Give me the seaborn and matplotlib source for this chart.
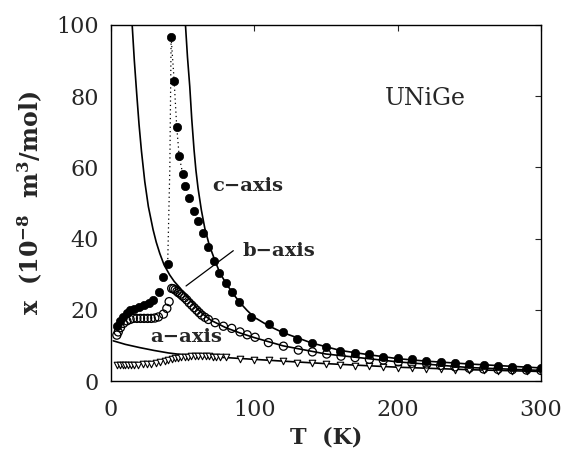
import numpy as np
import pandas as pd
import matplotlib
matplotlib.use("Agg")
import matplotlib.pyplot as plt
import seaborn as sns

# ---------------- data ----------------
c_T = [4, 6, 8.5, 11, 13.5, 16, 19.5, 23, 26.5, 29.5, 33.5, 36.5, 39.5,
       41.9, 44, 45.8, 47.5, 50, 51.9, 54.6, 58.1, 60.9, 64.4, 67.5, 72.1,
       75.4, 80, 84.6, 89, 98, 110, 120, 130, 140, 150, 160, 170, 180, 190,
       200, 210, 220, 230, 240, 250, 260, 270, 280, 290, 300]
c_chi = [15.5, 16.8, 18, 19.2, 19.9, 20.3, 20.8, 21.3, 22, 22.8, 25.1, 29.3, 33,
         96.5, 84.3, 71.4, 63.2, 58.1, 54.8, 51.3, 47.8, 44.9, 41.7, 37.7, 33.7,
         30.4, 27.6, 25, 22.3, 18.1, 15.9, 13.7, 11.9, 10.6, 9.6, 8.5, 7.9, 7.5, 6.8,
         6.4, 6.1, 5.7, 5.4, 5.1, 4.8, 4.4, 4.2, 4.0, 3.8, 3.7]

b_T = [4, 5, 6.5, 8.6, 11, 13.3, 15.5, 18, 20.5, 23, 25.5, 28, 30.5, 33,
       36.5, 38.9, 40.5, 42.3, 43.5, 44.7, 46, 47, 48.5, 49.8, 51.3, 52.8, 54.5,
       56.3, 58, 59.8, 61.5, 63.3, 65.5, 67.9, 72.6, 78.4, 84.2, 90, 95, 100.5,
       109.8, 120.3, 130.7, 140.5, 150.5, 160.5, 170.3, 180.3, 190, 200.5, 210,
       220.3, 230, 240, 250, 260, 270, 280, 290, 300]
b_chi = [12.9, 13.8, 15, 16.2, 16.9, 17.3, 17.6, 17.6, 17.6, 17.6, 17.6, 17.6, 17.7, 18,
         18.8, 20.4, 22.3, 26, 25.9, 25.6, 25.2, 24.8, 24.4, 23.9, 23.4, 22.8, 22,
         21.3, 20.6, 19.9, 19.2, 18.5, 17.9, 17.3, 16.4, 15.4, 14.8, 13.8, 13, 12.3,
         10.8, 9.8, 8.7, 8.2, 7.6, 7.0, 6.6, 6.1, 5.9, 5.4, 5.0,
         4.8, 4.4, 4.0, 3.6, 3.4, 3.3, 3.2, 3.1, 3.0]

a_T = [4, 6, 8, 10, 12, 14, 16, 19, 22, 25, 28, 31, 34, 37.7, 40, 42.5, 44.7,
       47, 49, 51.6, 54, 56, 58.6, 61, 63.5, 66, 68.5, 71, 73.5, 76, 80, 90,
       100, 110, 120, 130, 140, 150, 160, 170, 180, 190, 200, 210, 220, 230,
       240, 250, 260, 270, 280, 290, 300]
a_chi = [4.5, 4.5, 4.5, 4.5, 4.5, 4.5, 4.5, 4.6, 4.7, 4.8, 4.9, 5.1, 5.3, 5.5, 5.8, 6.1, 6.4,
         6.6, 6.7, 6.8, 6.9, 7.0, 7.0, 7.0, 7.0, 7.0, 7.0, 6.9, 6.9, 6.9, 6.8, 6.3,
         6.0, 5.8, 5.5, 5.2, 5.0, 4.8, 4.5, 4.3, 4.2, 4.0, 3.8, 3.6, 3.4, 3.3,
         3.2, 3.1, 3.0, 2.9, 2.8, 2.7, 2.7]

# fitted curves
fit_c_T = [51.9, 53.3, 54.9, 56.3, 57.9, 59.2, 60.7, 63, 65.4, 68.5, 72.6, 76, 80, 85,
           90, 95, 100, 110, 120, 140, 160, 180, 200, 220, 250, 300]
fit_c_chi = [100, 91, 82.7, 73.5, 64.9, 59.2, 54.1, 48, 42.9, 38.2, 33.7, 30.3, 27.6, 24.6,
             22, 19.8, 17.9, 15.5, 13.6, 10.7, 8.6, 7.4, 6.3, 5.6, 4.8, 3.7]

fit_b_T = [14.7, 16.2, 17.9, 19.5, 21.2, 23.5, 26, 29.3, 31.5, 34, 37, 40.9, 44, 48,
           52, 55, 60, 65, 70, 80, 90, 100, 120, 150, 200, 250, 300]
fit_b_chi = [100, 90, 80.5, 72, 64.5, 56, 49, 42.5, 39, 35.8, 32.6, 29.8, 28, 26.2,
             24.2, 22.8, 20.4, 18.5, 17.0, 15.0, 13.5, 12.2, 9.9, 7.6, 5.4, 3.8, 3.0]

fit_a_T = [1.5, 10, 20, 30, 40, 50, 60, 80, 100, 120, 150, 200, 250, 300]
fit_a_chi = [11.3, 10.3, 9.4, 8.6, 7.9, 7.4, 7.0, 6.6, 6.1, 5.6, 4.9, 3.9, 3.2, 2.7]

# dotted guides near the transition
dot1_T = [39.5, 41.0, 41.9]
dot1_chi = [33, 60, 96.5]
dot2_T = [41.9, 44, 45.8, 47.5, 50]
dot2_chi = [96.5, 84.3, 71.4, 63.2, 58.1]

# pointer for b-axis label
ptr_T = [85.3, 52.3]
ptr_chi = [36.6, 26.7]

# ---------------- plot ----------------
sns.set_style("white")
plt.rcParams['font.family'] = ['DejaVu Serif']
plt.rcParams['mathtext.fontset'] = 'dejavuserif'

fig = plt.figure(figsize=(5.64, 4.51), dpi=100)
ax = fig.add_axes([0.197, 0.155, 0.762, 0.79])

def line(x, y, **kw):
    sns.lineplot(x=x, y=y, ax=ax, sort=False, estimator=None, color='black', **kw)

line(fit_c_T, fit_c_chi, lw=1.2)
line(fit_b_T, fit_b_chi, lw=1.2)
line(fit_a_T, fit_a_chi, lw=1.2)
line(dot1_T, dot1_chi, lw=0.9, linestyle=(0, (1, 2.5)))
line(dot2_T, dot2_chi, lw=0.9, linestyle=(0, (1, 2.5)))
line(ptr_T, ptr_chi, lw=0.9)

sns.scatterplot(x=a_T, y=a_chi, ax=ax, marker='v', s=22, facecolor='white',
                edgecolor='black', linewidth=0.8, zorder=3)
sns.scatterplot(x=b_T, y=b_chi, ax=ax, marker='o', s=34, facecolor='none',
                edgecolor='black', linewidth=0.9, zorder=4)
sns.scatterplot(x=c_T, y=c_chi, ax=ax, marker='o', s=36, color='black',
                edgecolor='black', linewidth=0.5, zorder=5)

ax.set_xlim(0, 300)
ax.set_ylim(0, 100)
ax.set_xticks([0, 100, 200, 300])
ax.set_yticks([0, 20, 40, 60, 80, 100])
ax.tick_params(axis='both', direction='in', length=4, width=0.8,
               top=True, right=True, labelsize=16)
ax.tick_params(axis='x', pad=13)
ax.tick_params(axis='y', pad=9)
for sp in ax.spines.values():
    sp.set_linewidth(1.0)
    sp.set_color('black')

ax.set_xlabel('T  (K)', fontsize=16, fontweight='bold', labelpad=4)
ax.set_ylabel(r'x  (10$^{\mathbf{-8}}$  m$^{\mathbf{3}}$/mol)', fontsize=17,
              fontweight='bold', labelpad=8)

ax.text(70.5, 54.8, 'c\u2212axis', fontsize=14, fontweight='bold', va='center', ha='left')
ax.text(92, 36.5, 'b\u2212axis', fontsize=14, fontweight='bold', va='center', ha='left')
ax.text(27.2, 12.4, 'a\u2212axis', fontsize=14, fontweight='bold', va='center', ha='left')
ax.text(191, 79.2, 'UNiGe', fontsize=17, va='center', ha='left')

fig.savefig('out.png', dpi=100)
